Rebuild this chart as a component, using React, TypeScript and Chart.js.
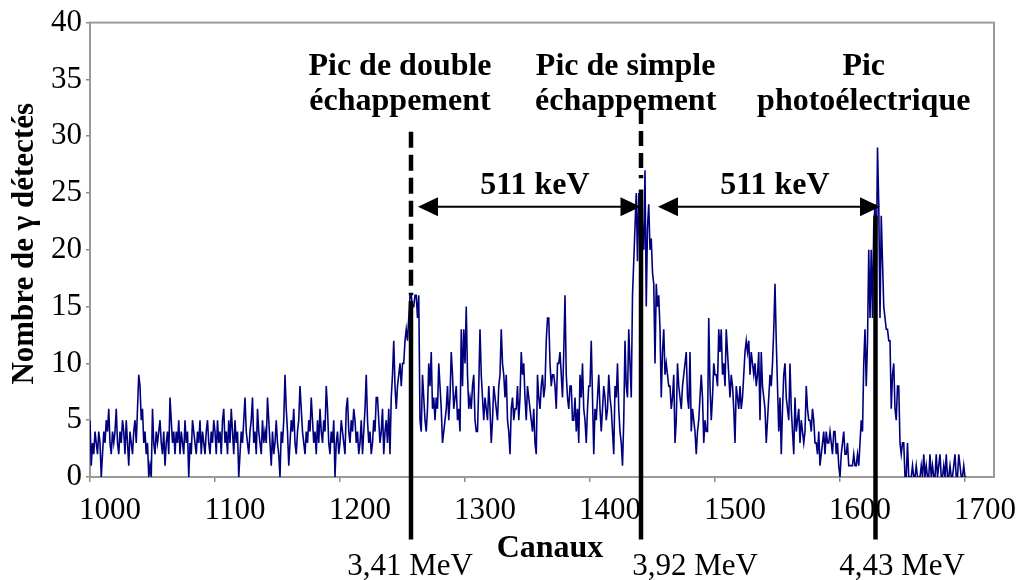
import React, { useEffect, useRef } from 'react';
import { Chart, registerables } from 'chart.js';

Chart.register(...registerables);

// ---------- data ----------
const firstChannel = 984;
// counts per channel, starting at firstChannel
const counts: number[] = [
  5, 1, 3, 2, 4, 3, 2, 4, 3, 0,
  2, 4, 3, 5, 4, 6, 3, 2, 4, 3,
  4, 6, 3, 2, 4, 3, 5, 4, 2, 5,
  3, 1, 4, 3, 2, 4, 5, 3, 6, 9,
  8, 5, 6, 3, 4, 2, 3, 0, 1, 0,
  6, 3, 2, 4, 3, 4, 5, 3, 2, 4,
  1, 3, 4, 2, 7, 5, 3, 4, 2, 4,
  3, 5, 2, 4, 3, 2, 5, 3, 4, 0,
  3, 2, 5, 4, 3, 2, 4, 3, 5, 2,
  4, 3, 2, 4, 5, 3, 2, 4, 3, 5,
  4, 2, 5, 3, 4, 2, 5, 6, 3, 4,
  2, 5, 3, 6, 4, 2, 5, 3, 4, 0,
  2, 4, 3, 5, 7, 4, 3, 2, 4, 5,
  7, 3, 4, 2, 6, 4, 3, 2, 5, 3,
  4, 3, 7, 5, 3, 1, 4, 2, 3, 5,
  3, 2, 0, 4, 3, 5, 9, 6, 4, 1,
  3, 5, 4, 6, 3, 2, 4, 5, 8, 6,
  4, 3, 2, 4, 3, 5, 4, 7, 5, 3,
  4, 2, 5, 3, 6, 4, 3, 5, 4, 8,
  6, 3, 2, 4, 3, 5, 0, 3, 4, 2,
  3, 5, 4, 3, 2, 6, 7, 4, 3, 5,
  4, 6, 5, 3, 4, 2, 3, 5, 2, 4,
  6, 9, 5, 3, 4, 2, 3, 5, 4, 7,
  7, 5, 3, 4, 6, 2, 4, 5, 3, 6,
  2, 7, 9, 12, 8, 6, 8, 9, 10, 8,
  10, 10, 12, 13, 12, 14, 16, 16, 15, 15,
  16, 16, 14, 16, 5, 4, 9, 7, 5, 4,
  6, 10, 8, 11, 6, 7, 5, 7, 6, 10,
  8, 6, 3, 4, 5, 6, 8, 5, 7, 11,
  9, 6, 7, 8, 5, 6, 4, 13, 8, 13,
  10, 15, 9, 6, 7, 6, 8, 9, 5, 4,
  4, 8, 13, 9, 7, 5, 7, 6, 5, 8,
  6, 3, 5, 8, 7, 6, 5, 8, 9, 13,
  10, 9, 7, 9, 5, 4, 2, 6, 7, 5,
  6, 6, 8, 5, 7, 11, 9, 10, 7, 5,
  8, 7, 6, 5, 4, 6, 3, 2, 9, 7,
  6, 8, 9, 7, 8, 12, 14, 14, 10, 8,
  9, 9, 8, 6, 10, 10, 11, 9, 7, 11,
  16, 9, 7, 6, 8, 8, 5, 5, 7, 4,
  6, 3, 9, 7, 10, 6, 5, 3, 6, 8,
  8, 12, 7, 2, 6, 5, 7, 9, 6, 4,
  6, 8, 7, 5, 6, 9, 7, 6, 4, 2,
  8, 7, 10, 6, 4, 3, 1, 5, 12, 8,
  7, 13, 10, 7, 16, 19, 22, 25, 19, 25,
  20, 25, 22, 20, 27, 15, 22, 24, 20, 21,
  18, 17, 10, 17, 15, 16, 13, 7, 11, 13,
  9, 10, 9, 8, 8, 6, 7, 9, 3, 5,
  10, 8, 7, 6, 8, 9, 10, 11, 7, 6,
  11, 4, 6, 5, 4, 2, 4, 5, 7, 9,
  7, 3, 5, 4, 4, 14, 8, 5, 7, 10,
  9, 9, 8, 13, 11, 13, 9, 10, 8, 13,
  11, 9, 7, 9, 8, 6, 3, 8, 7, 6,
  8, 6, 7, 9, 11, 12, 11, 12, 9, 11,
  10, 9, 10, 8, 9, 11, 5, 11, 8, 7,
  6, 3, 5, 7, 9, 8, 10, 13, 17, 12,
  8, 4, 7, 2, 6, 9, 10, 7, 6, 5,
  10, 6, 4, 2, 7, 4, 5, 6, 3, 5,
  4, 3, 4, 8, 6, 5, 5, 4, 6, 5,
  3, 3, 2, 4, 1, 2, 3, 4, 2, 4,
  3, 3, 4, 3, 2, 4, 4, 2, 3, 1,
  0, 2, 3, 4, 2, 2, 3, 1, 1, 1,
  1, 2, 1, 1, 2, 1, 3, 5, 4, 10,
  13, 8, 12, 20, 14, 20, 14, 22, 24, 18,
  29, 24, 14, 23, 19, 15, 14, 13, 13, 12,
  12, 6, 9, 10, 6, 5, 8, 8, 3, 2,
  3, 3, 0, 0, 3, 0, 0, 0, 1, 0,
  0, 1, 0, 0, 0, 1, 0, 2, 0, 1,
  0, 0, 2, 0, 1, 0, 0, 2, 0, 1,
  2, 0, 0, 1, 0, 2, 0, 0, 1, 0,
  0, 1, 2, 0, 0, 2, 1, 0, 0, 1,
  0, 0,
];

// axis
const xMin = 984;
const xMax = 1707.2;
const xTickMarks = [984, 1084, 1184, 1284, 1384, 1484, 1584, 1684];
const xLabelShift = 16; // label value = tick mark + shift
const yMin = 0;
const yMax = 40;
const yStep = 5;

// annotations (channels)
const peakChannels = [1240.8, 1424.8, 1612.4];
const peakEnergies = ['3,41 MeV', '3,92 MeV', '4,43 MeV'];
const energyLabelChannels = [1240, 1468, 1633.6];
const peakTitles = [
  ['Pic de double', 'échappement'],
  ['Pic de simple', 'échappement'],
  ['Pic', 'photoélectrique'],
];
const peakTitleChannels = [1232, 1412.5, 1603];
const gapLabel = '511 keV';
const gapArrows = [
  [1246.4, 1424.4],
  [1438.4, 1616],
];
const gapLabelChannels = [1340, 1532];
const xTitle = 'Canaux';
const yTitle = 'Nombre de γ détectés';

const SERIF = '"Liberation Serif", "Times New Roman", serif';

const annotatePlugin = {
  id: 'annotate',
  beforeDatasetsDraw(chart: any) {
    const { ctx, chartArea: a } = chart;
    ctx.save();
    ctx.strokeStyle = '#9a9a9a';
    ctx.lineWidth = 2;
    ctx.strokeRect(a.left, a.top, a.right - a.left, a.bottom - a.top);
    ctx.restore();
  },
  afterDraw(chart: any) {
    const { ctx } = chart;
    const xs = chart.scales.x;
    const ys = chart.scales.y;
    const px = (c: number) => xs.getPixelForValue(c);
    const py = (v: number) => ys.getPixelForValue(v);
    ctx.save();
    ctx.fillStyle = '#000';
    ctx.strokeStyle = '#000';

    // vertical markers
    const bottom = py(-5.5);
    const drawV = (x: number, y1: number, y2: number, dash: number[], w: number) => {
      ctx.beginPath();
      ctx.setLineDash(dash);
      ctx.lineWidth = w;
      ctx.moveTo(x, y1);
      ctx.lineTo(x, y2);
      ctx.stroke();
      ctx.setLineDash([]);
    };
    // line 1: dashed then solid
    drawV(px(peakChannels[0]), py(30.4), py(16.0), [16, 7], 4.5);
    drawV(px(peakChannels[0]), py(15.5), bottom, [], 4.5);
    // line 2
    drawV(px(peakChannels[1]), py(32.4), py(26.3), [15, 7], 4.5);
    drawV(px(peakChannels[1]), py(25.3), bottom, [], 4.5);
    // line 3
    drawV(px(peakChannels[2]), py(23.0), bottom, [], 4.5);

    // arrows
    const ay = py(23.8);
    const head = (tipX: number, dir: number) => {
      ctx.beginPath();
      ctx.moveTo(tipX, ay);
      ctx.lineTo(tipX - dir * 20, ay - 9.5);
      ctx.lineTo(tipX - dir * 20, ay + 9.5);
      ctx.closePath();
      ctx.fill();
    };
    gapArrows.forEach(([c1, c2]) => {
      const x1 = px(c1);
      const x2 = px(c2);
      ctx.beginPath();
      ctx.lineWidth = 2;
      ctx.moveTo(x1 + 10, ay);
      ctx.lineTo(x2 - 10, ay);
      ctx.stroke();
      head(x1, -1);
      head(x2, 1);
    });

    // bold texts
    ctx.textAlign = 'center';
    ctx.textBaseline = 'alphabetic';
    ctx.font = `bold 32px ${SERIF}`;
    gapLabelChannels.forEach((c) => ctx.fillText(gapLabel, px(c), py(24.9)));
    peakTitles.forEach((lines, i) => {
      ctx.fillText(lines[0], px(peakTitleChannels[i]), py(35.4));
      ctx.fillText(lines[1], px(peakTitleChannels[i]), py(32.3));
    });
    ctx.fillText(xTitle, px(1352), py(-7.0));

    // energy labels
    ctx.font = `31px ${SERIF}`;
    peakEnergies.forEach((t, i) => ctx.fillText(t, px(energyLabelChannels[i]), py(-8.6)));

    // y title
    ctx.save();
    ctx.translate(33, (py(yMin) + py(yMax)) / 2 - 6);
    ctx.rotate(-Math.PI / 2);
    ctx.font = `bold 31px ${SERIF}`;
    ctx.fillText(yTitle, 0, 0);
    ctx.restore();

    ctx.restore();
  },
};

export default function App() {
  const canvasRef = useRef<HTMLCanvasElement | null>(null);

  useEffect(() => {
    const canvas = canvasRef.current;
    if (!canvas) return;
    const points = counts.map((v, i) => ({ x: firstChannel + i, y: v }));
    const chart = new Chart(canvas, {
      type: 'line',
      data: {
        datasets: [
          {
            data: points,
            borderColor: '#00007f',
            borderWidth: 1.6,
            pointRadius: 0,
            tension: 0,
            fill: false,
          },
        ],
      },
      options: {
        animation: false,
        responsive: false,
        maintainAspectRatio: false,
        events: [],
        layout: { padding: { top: 21, right: 25, left: 0, bottom: 0 } },
        plugins: {
          legend: { display: false },
          tooltip: { enabled: false },
          title: { display: false },
        },
        scales: {
          x: {
            type: 'linear',
            min: xMin,
            max: xMax,
            afterBuildTicks: (scale: any) => {
              scale.ticks = xTickMarks.map((v) => ({ value: v }));
            },
            afterFit: (scale: any) => {
              scale.height = 103;
            },
            ticks: {
              autoSkip: false,
              maxRotation: 0,
              labelOffset: 20,
              padding: 10,
              color: '#000',
              font: { family: SERIF, size: 31 },
              callback: (value: any) => String(Math.round(Number(value) + xLabelShift)),
            },
            grid: {
              drawOnChartArea: false,
              drawTicks: true,
              tickLength: 5,
              color: '#8a8a8a',
              lineWidth: 1.5,
            },
            border: { display: true, color: '#9a9a9a', width: 2 },
          },
          y: {
            min: yMin,
            max: yMax,
            afterFit: (scale: any) => {
              scale.width = 90;
            },
            ticks: {
              stepSize: yStep,
              padding: 4,
              color: '#000',
              font: { family: SERIF, size: 31 },
            },
            grid: {
              drawOnChartArea: false,
              drawTicks: true,
              tickLength: 4,
              color: '#8a8a8a',
              lineWidth: 1.5,
            },
            border: { display: true, color: '#9a9a9a', width: 2 },
          },
        },
      },
      plugins: [annotatePlugin],
    });
    return () => chart.destroy();
  }, []);

  return (
    <div style={{ position: 'fixed', left: 0, top: 0, width: 1019, height: 580, background: '#fff' }}>
      <canvas ref={canvasRef} width={1019} height={580} style={{ width: 1019, height: 580 }} />
    </div>
  );
}
